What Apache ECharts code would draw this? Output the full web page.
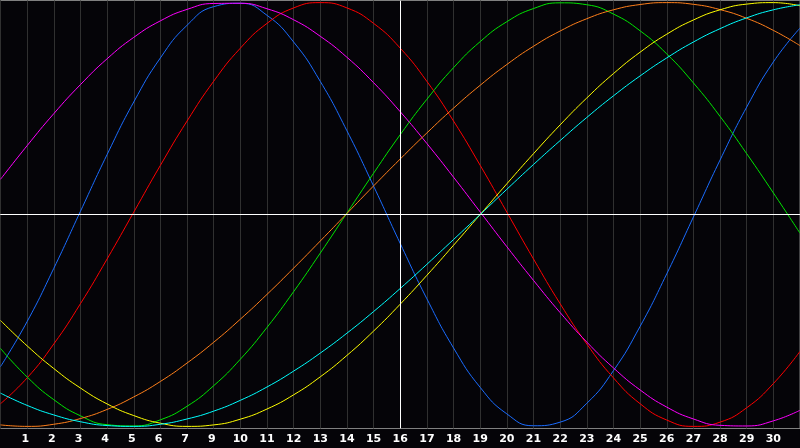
<!DOCTYPE html>
<html>
<head>
<meta charset="utf-8">
<script src="https://cdn.jsdelivr.net/npm/echarts@6/dist/echarts.min.js"></script>
<style>
html,body{margin:0;padding:0;background:#050408;}
#chart{width:800px;height:448px;}
</style>
</head>
<body>
<div id="chart"></div>
<script>
var days = [0,1,2,3,4,5,6,7,8,9,10,11,12,13,14,15,16,17,18,19,20,21,22,23,24,25,26,27,28,29,30];
var tickLabels = ['','1','2','3','4','5','6','7','9','10','11','12','13','14','15','16','17','18','19','20','21','22','23','24','25','26','27','28','29','30',''];

var blueVals = [-71.8,-50.5,-25.4,1.5,28.3,53.1,73.9,89.3,98.1,99.7,94.0,81.4,62.8,39.5,13.4,-13.7,-39.8,-63.0,-81.6,-94.1,-99.7,-98.0,-89.1,-73.7,-52.8,-28.0,-1.2,25.7,50.7,72.0,88.0];
var redVals = [-89.3,-77.1,-61.1,-42.1,-21.0,1.1,23.2,44.1,62.9,78.5,90.2,97.5,100,97.5,90.2,78.5,62.8,44.1,23.2,1.1,-21.0,-42.1,-61.1,-77.1,-89.3,-97.0,-100.0,-98.0,-91.2,-79.8,-64.6];
var magentaVals = [16.6,32.5,47.6,61.3,73.5,83.6,91.4,96.8,99.6,99.7,97.1,91.9,84.1,74.2,62.2,48.5,33.5,17.6,1.2,-15.2,-31.1,-46.3,-60.2,-72.4,-82.8,-90.9,-96.5,-99.5,-99.8,-97.4,-92.4];
var greenVals = [-63.2,-76.7,-87.4,-95.0,-99.2,-99.8,-96.9,-90.5,-80.8,-68.3,-53.3,-36.4,-18.2,0.7,19.5,37.7,54.4,69.3,81.6,91.0,97.2,99.9,99.0,94.6,86.7,75.8,62.1,46.3,28.7,10.2,-8.8];
var orangeVals = [-99.3,-100.0,-99.0,-96.3,-92.0,-86.1,-78.8,-70.1,-60.3,-49.4,-37.7,-25.3,-12.5,0.5,13.5,26.2,38.5,50.2,61.0,70.8,79.4,86.6,92.4,96.6,99.1,100.0,99.2,96.7,92.6,86.9,79.7];
var yellowVals = [-50.0,-62.0,-72.7,-81.9,-89.4,-94.9,-98.5,-100.0,-99.3,-96.6,-91.8,-85.1,-76.6,-66.5,-55.0,-42.3,-28.7,-14.5,0,14.5,28.7,42.3,55.0,66.5,76.6,85.1,91.8,96.6,99.3,100.0,98.5];
var cyanVals = [-84.3,-90.1,-94.6,-97.8,-99.6,-100.0,-99.0,-96.5,-92.8,-87.7,-81.4,-73.9,-65.4,-56.0,-45.8,-34.9,-23.5,-11.8,0.0,11.9,23.6,34.9,45.8,56.0,65.4,73.9,81.4,87.7,92.8,96.6,99.0];

var todayIndex = 15;

function pairs(vals){ return days.map(function(d,i){ return [d, vals[i]]; }); }

var curves = [
  {vals: blueVals, color: '#1a6cff'},
  {vals: redVals, color: '#ff0000'},
  {vals: magentaVals, color: '#ff00ff'},
  {vals: greenVals, color: '#00e600'},
  {vals: orangeVals, color: '#ff7f1a'},
  {vals: yellowVals, color: '#ffff00'},
  {vals: cyanVals, color: '#00ffff'}
];

var series = curves.map(function(c){
  return {
    type: 'line',
    data: pairs(c.vals),
    showSymbol: false,
    smooth: true,
    lineStyle: {color: c.color, width: 1},
    itemStyle: {color: c.color},
    z: 3
  };
});
series.unshift({
  type: 'line',
  data: [],
  z: 2,
  markLine: {
    silent: true,
    symbol: 'none',
    label: {show: false},
    lineStyle: {color: '#ffffff', width: 1, type: 'solid'},
    data: [{xAxis: todayIndex}, {yAxis: 0}]
  }
});

var chart = echarts.init(document.getElementById('chart'));
chart.setOption({
  animation: false,
  backgroundColor: '#050408',
  grid: {left: 0.5, top: 0.5, right: 0, bottom: 19.5, show: true, borderColor: '#808080', borderWidth: 1, backgroundColor: 'transparent'},
  xAxis: {
    type: 'value', min: 0, max: 30, interval: 1,
    axisLine: {show: true, lineStyle: {color: '#a0a0a0', width: 1}},
    axisTick: {show: false},
    splitLine: {show: true, lineStyle: {color: '#303030', width: 1}},
    axisLabel: {
      color: '#ffffff', fontWeight: 'bold', fontSize: 11, fontFamily: 'DejaVu Sans', margin: 5,
      showMinLabel: false, showMaxLabel: false,
      formatter: function(v){ var t = tickLabels[Math.round(v)] || ''; return t.length === 1 ? t + ' ' : t; }
    }
  },
  yAxis: {
    type: 'value', min: -101, max: 101, show: false,
    splitLine: {show: false}
  },
  series: series
});
</script>
</body>
</html>
